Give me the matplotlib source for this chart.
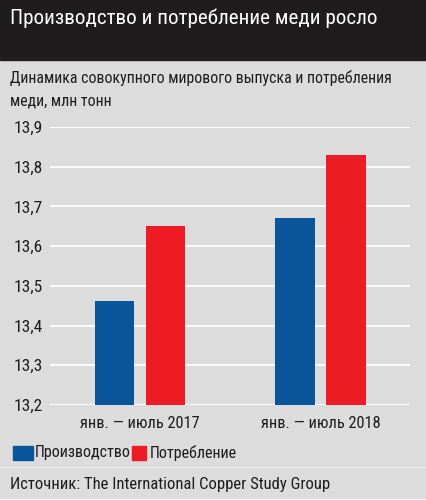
import matplotlib
matplotlib.use("Agg")
import matplotlib.pyplot as plt
from matplotlib.patches import Rectangle
import numpy as np

categories = ["янв. — июль 2017", "янв. — июль 2018"]
production = [13.463, 13.67]
consumption = [13.65, 13.83]
yticks = [13.2, 13.3, 13.4, 13.5, 13.6, 13.7, 13.8, 13.9]
ytick_labels = ["13,2", "13,3", "13,4", "13,5", "13,6", "13,7", "13,8", "13,9"]
series_names = ["Производство", "Потребление"]

BLUE = "#0a5499"
RED = "#ed1c24"
BG = "#dcdcdc"
INK = "#1e1c1d"
FONT = ["Roboto Condensed", "Liberation Sans Narrow", "DejaVu Sans"]
plt.rcParams["font.family"] = FONT

W, H = 427, 500
fig = plt.figure(figsize=(W / 100, H / 100), dpi=100)
fig.patch.set_facecolor("white")

def px(x, y):
    return x / W, 1 - y / H

# background panels
fig.add_artist(Rectangle((0, 1 - 466 / H), 1, 406 / H, transform=fig.transFigure, color=BG, zorder=0))
fig.add_artist(Rectangle((0, 1 - 60 / H), 1, 60 / H, transform=fig.transFigure, color=INK, zorder=0))
fig.add_artist(Rectangle((0, 1 - 498 / H), 1, 30 / H, transform=fig.transFigure, color=BG, zorder=0))

# title texts
fig.text(*px(10, 18), "Производство и потребление меди росло", color="white",
         fontsize=15.2, va="center", ha="left")
fig.text(*px(10, 78), "Динамика совокупного мирового выпуска и потребления", color=INK,
         fontsize=11.4, va="center", ha="left")
fig.text(*px(10, 101), "меди, млн тонн", color=INK,
         fontsize=11.4, va="center", ha="left")

# axes
left, right, top, bottom = 50, 410, 127, 405
ax = fig.add_axes([left / W, 1 - bottom / H, (right - left) / W, (bottom - top) / H])
ax.set_facecolor("none")
x = np.arange(len(categories))
bw = 0.22
off = 0.142
ax.bar(x - off, [v - 13.2 for v in production], bw, bottom=13.2, color=BLUE, zorder=3)
ax.bar(x + off, [v - 13.2 for v in consumption], bw, bottom=13.2, color=RED, zorder=3)
ax.set_ylim(13.2, 13.9)
ax.set_xlim(-0.4986, 1.496)
ax.set_yticks(yticks)
ax.set_yticklabels(ytick_labels)
ax.set_xticks(x)
ax.set_xticklabels(categories)
ax.grid(axis="y", color="white", linewidth=1.3, zorder=1)
ax.grid(axis="x", visible=False)
for s in ax.spines.values():
    s.set_visible(False)
ax.tick_params(axis="y", length=0, labelsize=12.5, colors=INK, pad=5)
ax.tick_params(axis="x", length=0, labelsize=11.8, colors=INK, pad=8)

# legend
fig.add_artist(Rectangle(px(13, 460), 20 / W, 14 / H, transform=fig.transFigure, color=BLUE))
fig.text(*px(35, 453), series_names[0], fontsize=11.5, va="center", ha="left", color=INK)
fig.add_artist(Rectangle(px(132, 460), 14 / W, 14 / H, transform=fig.transFigure, color=RED))
fig.text(*px(150, 453), series_names[1], fontsize=11.5, va="center", ha="left", color=INK)

fig.text(*px(10, 485), "Источник: The International Copper Study Group", fontsize=12,
         va="center", ha="left", color=INK)

fig.savefig("out.png", dpi=100, facecolor=fig.get_facecolor())
